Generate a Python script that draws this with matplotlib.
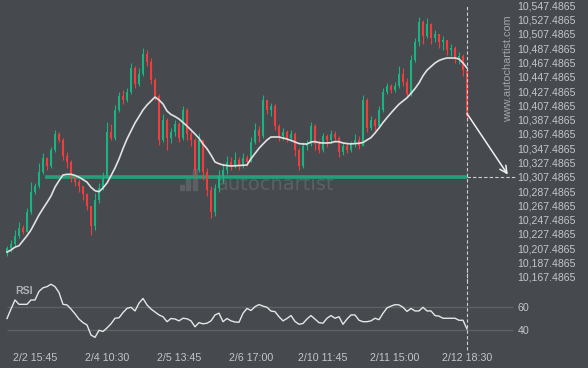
import numpy as np
import matplotlib
matplotlib.use("Agg")
import matplotlib.pyplot as plt
from matplotlib.patches import Rectangle

plt.rcParams['font.family'] = ['Liberation Sans', 'DejaVu Sans']

# candle data (one entry per bar), first open given separately
first_open = 10202
closes = [10208, 10213, 10225, 10236, 10230, 10258, 10286, 10295, 10314, 10334,
          10323, 10345, 10367, 10359, 10337, 10328, 10306, 10300, 10295, 10283,
          10267, 10239, 10275, 10292, 10306, 10370, 10362, 10401, 10421, 10415,
          10426, 10460, 10437, 10451, 10479, 10468, 10443, 10421, 10359, 10387,
          10362, 10370, 10381, 10362, 10401, 10367, 10359, 10317, 10359, 10314,
          10289, 10258, 10292, 10309, 10317, 10328, 10323, 10331, 10323, 10334,
          10328, 10356, 10373, 10365, 10415, 10401, 10407, 10379, 10365, 10370,
          10362, 10367, 10345, 10323, 10351, 10353, 10379, 10353, 10345, 10365,
          10359, 10367, 10362, 10342, 10351, 10345, 10353, 10359, 10351, 10415,
          10376, 10387, 10379, 10401, 10426, 10435, 10429, 10435, 10451, 10440,
          10423, 10471, 10496, 10524, 10505, 10521, 10502, 10507, 10496, 10499,
          10485, 10488, 10474, 10477, 10457, 10393]
highs = [10211, 10219, 10233, 10244, 10240, 10264, 10300, 10299, 10327, 10341,
         10335, 10349, 10373, 10370, 10362, 10342, 10331, 10309, 10304, 10295,
         10285, 10267, 10285, 10299, 10314, 10384, 10381, 10408, 10426, 10429,
         10432, 10467, 10463, 10460, 10488, 10485, 10474, 10446, 10423, 10395,
         10390, 10376, 10387, 10384, 10407, 10404, 10373, 10362, 10369, 10359,
         10320, 10295, 10297, 10317, 10327, 10337, 10335, 10342, 10335, 10341,
         10338, 10363, 10383, 10379, 10422, 10415, 10411, 10409, 10381, 10376,
         10373, 10373, 10370, 10348, 10356, 10359, 10384, 10381, 10359, 10369,
         10367, 10373, 10372, 10365, 10355, 10355, 10358, 10367, 10365, 10422,
         10418, 10393, 10390, 10407, 10432, 10439, 10437, 10440, 10463, 10460,
         10446, 10478, 10502, 10531, 10527, 10530, 10523, 10513, 10507, 10505,
         10499, 10493, 10491, 10482, 10479, 10460]
lows = [10197, 10202, 10211, 10222, 10227, 10230, 10255, 10283, 10292, 10311,
        10317, 10320, 10342, 10356, 10331, 10320, 10300, 10295, 10286, 10275,
        10261, 10226, 10233, 10271, 10289, 10306, 10359, 10359, 10398, 10409,
        10412, 10423, 10432, 10435, 10449, 10463, 10437, 10415, 10352, 10356,
        10345, 10355, 10365, 10356, 10359, 10359, 10351, 10307, 10314, 10303,
        10281, 10250, 10253, 10286, 10299, 10311, 10317, 10320, 10317, 10320,
        10323, 10328, 10353, 10356, 10362, 10395, 10393, 10373, 10358, 10359,
        10356, 10358, 10337, 10317, 10320, 10345, 10351, 10345, 10341, 10342,
        10349, 10355, 10356, 10335, 10338, 10341, 10342, 10349, 10346, 10351,
        10370, 10373, 10373, 10376, 10398, 10423, 10425, 10426, 10432, 10435,
        10419, 10421, 10468, 10491, 10493, 10502, 10493, 10496, 10488, 10485,
        10478, 10477, 10467, 10465, 10449, 10390]
ma = [10202, 10205, 10209, 10211, 10218, 10225, 10233, 10243.5, 10254, 10263,
      10271.5, 10280.6, 10293, 10302, 10310, 10311, 10311, 10309.4, 10307, 10303.6,
      10300, 10292.8, 10288, 10286.6, 10291.8, 10298.8, 10309, 10319.8, 10332.4, 10347,
      10360.4, 10371.6, 10382.8, 10391.8, 10401, 10408, 10413.6, 10419.2, 10415.1, 10409.4,
      10399.6, 10394.7, 10391.9, 10388.4, 10383.5, 10378.6, 10373, 10367.4, 10361.4, 10353.4,
      10346.8, 10338, 10328.2, 10325.8, 10324, 10323.3, 10322.6, 10322.9, 10323.3, 10323.6,
      10324, 10332.8, 10340.1, 10347.4, 10353.4, 10359, 10363.2, 10363.2, 10363.2, 10361.8,
      10360.4, 10358.4, 10356.2, 10354, 10353.4, 10353.4, 10356.2, 10356.8, 10355.2, 10354.8,
      10354.8, 10355.2, 10356.8, 10356.6, 10354.8, 10354, 10353.5, 10354, 10354.4, 10355.5,
      10359, 10362.4, 10368.8, 10375.8, 10383.4, 10390.2, 10396.8, 10403.1, 10409.1, 10413.6,
      10418.1, 10424.2, 10431, 10438.8, 10449, 10456.7, 10461.8, 10466.8, 10470.3, 10472.4,
      10473.8, 10473.8, 10473.8, 10472.4, 10466.8, 10459.8]
rsi = [50, 58, 65.7, 62, 62, 62, 65.7, 65.7, 73, 76,
       77, 79, 77, 72, 62, 61.5, 58, 54, 49.5, 46.5,
       44.5, 36, 34, 40, 39, 42, 45.5, 50.2, 50.6, 55,
       58.6, 59.5, 56.4, 63, 67, 61.5, 58, 55.5, 53, 51.5,
       47.3, 50, 49.6, 48, 50.2, 49.8, 48, 43, 46.5, 45.5,
       46, 48, 53, 54.5, 47.3, 50, 48, 47, 46.8, 54.4,
       58.5, 56.8, 60, 61.8, 60.5, 59.5, 56.3, 55.8, 51.5, 48,
       50, 52.5, 47.5, 45.1, 45.8, 49.6, 52.5, 49.5, 46.5, 46,
       50.2, 52.5, 50.2, 51.5, 45.1, 49.5, 53, 53, 48.5, 47.3,
       47.3, 48, 50.2, 49, 54.4, 59, 60.5, 61.7, 61.5, 59.5,
       56, 58.5, 56.4, 56.4, 59.5, 56.4, 56.4, 52.5, 52, 50.2,
       50.2, 50.2, 50.2, 48.5, 48.5, 41.1]

date_ticks = [7, 25, 43, 61, 79, 97, 115]
date_labels = ["2/2 15:45", "2/4 10:30", "2/5 13:45", "2/6 17:00",
               "2/10 11:45", "2/11 15:00", "2/12 18:30"]
price_ticks = [10167.4865 + 20 * k for k in range(20)]
rsi_ticks = [40, 60]

level = 10307.4865
level_from = 9.5
target_x = 125.2

bg = '#46494e'
up_col = '#19b47f'
dn_col = '#f13d3d'
txt_col = '#c4c6c9'

n = len(closes)
x = np.arange(n)
opens = [first_open] + closes[:-1]
last = n - 1

fig = plt.figure(figsize=(5.88, 3.68), dpi=100, facecolor=bg)
ax = fig.add_axes([0, 1 - 282 / 368, 512 / 588, 282 / 368])
ax.set_facecolor(bg)
for s in ax.spines.values():
    s.set_visible(False)
ax.set_xlim(-1.75, 126.25)
ax.set_ylim(10160.2, 10555)

# watermark
ax.text(0.539, 0.344, "autochartist", transform=ax.transAxes, ha='center',
        va='center', fontsize=14, color='#5c5f64', family='DejaVu Sans',
        zorder=0.5)
for bx, bh in [(0.352, 0.02), (0.364, 0.045), (0.376, 0.075)]:
    ax.add_patch(Rectangle((bx, 0.325), 0.008, bh, transform=ax.transAxes,
                           color='#5c5f64', zorder=0.5))

cols = [up_col if c >= o else dn_col for o, c in zip(opens, closes)]
ax.vlines(x, lows, highs, colors=cols, lw=0.8, zorder=2)
ax.bar(x, np.array(closes) - np.array(opens), bottom=opens, width=0.55,
       color=cols, zorder=2)
ax.plot(x, ma, color='#e2e2e2', lw=1.2, zorder=3)

ax.hlines(level, level_from, last, color='#22a07a', lw=2.6, zorder=1.5)
ax.hlines(level, last, 127, color='#d0d0d0', lw=0.8, linestyles=(0, (3, 2)),
          clip_on=False, zorder=3)
ax.axvline(last, ymin=0, ymax=1 - 5 / 282, color='#d0d0d0', lw=0.8,
           ls=(0, (3, 2)), zorder=3)
ax.annotate('', xy=(target_x, level + 3), xytext=(last, closes[-1] + 3),
            arrowprops=dict(arrowstyle='->', color='#f0f0f0', lw=1.1,
                            mutation_scale=13, shrinkA=0, shrinkB=0),
            zorder=4, annotation_clip=False)

ax.yaxis.tick_right()
ax.set_yticks(price_ticks)
ax.set_yticklabels(["{:,.4f}".format(v) for v in price_ticks])
ax.tick_params(axis='y', length=0, pad=4, labelsize=7.6, labelcolor=txt_col)
ax.set_xticks([])

ax.text(0.993, 0.757, "www.autochartist.com", transform=ax.transAxes,
        rotation=90, ha='center', va='center', fontsize=7.8, color='#a3a6aa')

# RSI panel
ar = fig.add_axes([0, 1 - 346 / 368, 512 / 588, 70 / 368])
ar.patch.set_visible(False)
for s in ar.spines.values():
    s.set_visible(False)
ar.set_xlim(-1.75, 126.25)
ar.set_ylim(26.7, 86)
ar.hlines(rsi_ticks, 0, 126.5, color='#5e6267', lw=1, clip_on=False)
ar.plot(x, rsi, color='#e6e6e6', lw=1)
ar.axvline(last, ymin=-0.06, ymax=1.1, color='#d0d0d0', lw=0.8,
           ls=(0, (3, 2)), clip_on=False)
ar.text(0.029, 0.786, "RSI", transform=ar.transAxes, ha='left', va='center',
        fontsize=7.6, fontweight='bold', color='#aeb2b7')
ar.yaxis.tick_right()
ar.set_yticks(rsi_ticks)
ar.set_yticklabels([str(v) for v in rsi_ticks])
ar.set_xticks(date_ticks)
ar.set_xticklabels(date_labels)
ar.tick_params(axis='both', length=0, labelsize=7.7, labelcolor=txt_col)
ar.tick_params(axis='y', pad=4)
ar.tick_params(axis='x', pad=5)

fig.savefig("out.png", dpi=100, facecolor=bg)
